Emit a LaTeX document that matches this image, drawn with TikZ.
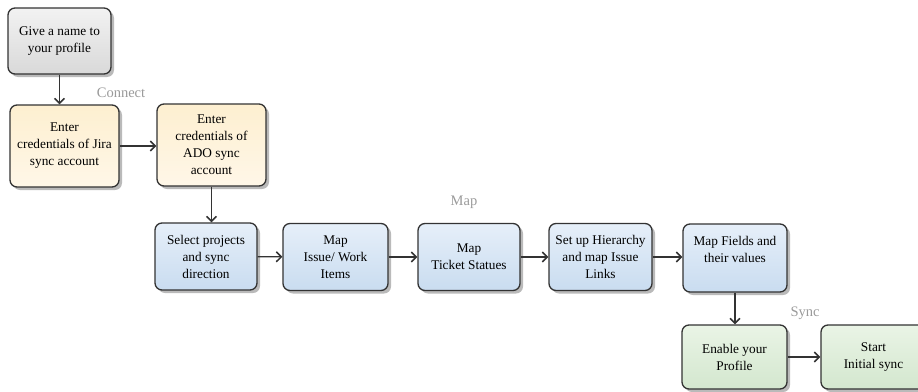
\documentclass[tikz,border=0pt]{standalone}
\usepackage{fontspec}
\setmainfont{Liberation Serif}
\usetikzlibrary{arrows.meta,shadows}
\definecolor{edge}{HTML}{333333}
\definecolor{lbl}{HTML}{9A9A9A}
\definecolor{gtop}{HTML}{F2F2F2}\definecolor{gbot}{HTML}{D9D9D9}
\definecolor{ytop}{HTML}{FDEFD0}\definecolor{ybot}{HTML}{FFF7E8}
\definecolor{btop}{HTML}{E6EFF9}\definecolor{bbot}{HTML}{C9DCF0}
\definecolor{ntop}{HTML}{EAF4E6}\definecolor{nbot}{HTML}{D3E7CE}
\tikzset{
  boxtext/.style={align=center, font=\fontsize{13.3}{17}\selectfont, text=black},
  box/.style={boxtext, draw=edge, line width=1.3pt, rounded corners=7pt,
    inner sep=2pt,
    drop shadow={shadow xshift=3pt, shadow yshift=-3pt, fill=black!45, opacity=0.6}},
  graybox/.style={box, top color=gtop, bottom color=gbot},
  yellowbox/.style={box, top color=ytop, bottom color=ybot},
  bluebox/.style={box, top color=btop, bottom color=bbot},
  greenbox/.style={box, top color=ntop, bottom color=nbot},
  conn/.style={draw=edge, line width=1.2pt, -{Straight Barb[length=5pt,width=10pt,line width=1.5pt]}},
  phase/.style={text=lbl, font=\fontsize{14.5}{16}\selectfont}
}
\begin{document}
\begin{tikzpicture}[x=1pt,y=-1pt]
\useasboundingbox (0,0) rectangle (918,391);
\node[graybox, minimum width=103pt, minimum height=66pt] (name) at (59.5,41) {Give a name to\\your profile};
\node[yellowbox, minimum width=109pt, minimum height=82pt] (jira) at (64.5,146) {Enter\\credentials of Jira\\sync account};
\node[yellowbox, minimum width=109pt, minimum height=82pt] (ado) at (211.5,145) {Enter\\credentials of\\ADO sync\\account};
\node[bluebox, minimum width=102pt, minimum height=67pt] (select) at (206,256.5) {Select projects\\and sync\\direction};
\node[bluebox, minimum width=105pt, minimum height=67pt] (issue) at (335.5,257) {Map\\Issue/ Work\\Items};
\node[bluebox, minimum width=102pt, minimum height=67pt] (ticket) at (469,257) {Map\\Ticket Statues};
\node[bluebox, minimum width=103pt, minimum height=67pt] (hier) at (600.5,257) {Set up Hierarchy\\and map Issue\\Links};
\node[bluebox, minimum width=104pt, minimum height=68pt] (fields) at (735,258) {};
\node[boxtext] (fieldstext) at ([yshift=8.5pt]fields.center) {Map Fields and\\their values};
\node[greenbox, minimum width=105pt, minimum height=64pt] (enable) at (734.5,357) {Enable your\\Profile};
\node[greenbox, minimum width=105pt, minimum height=64pt] (start) at (873.5,357) {Start\\Initial sync};
\node[phase] (lconnect) at (121,93) {Connect};
\node[phase] (lmap) at (464,202) {Map};
\node[phase] (lsync) at (805,313) {Sync};
\draw[conn] (name.south) -- (name.south |- jira.north);
\draw[conn] (jira.east) -- (jira.east -| ado.west);
\draw[conn] (ado.south) -- (ado.south |- select.north);
\draw[conn] (select) -- (issue);
\draw[conn] (issue) -- (ticket);
\draw[conn] (ticket) -- (hier);
\draw[conn] (hier) -- (fields.west |- hier.east);
\draw[conn] (fields.south) -- (enable.north -| fields.south);
\draw[conn] (enable) -- (start);
\end{tikzpicture}
\end{document}
